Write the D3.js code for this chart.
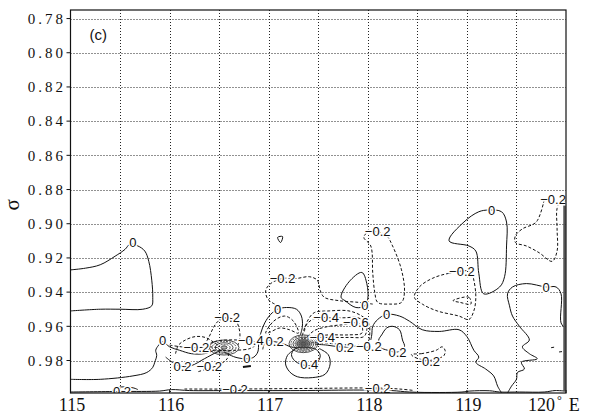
<!DOCTYPE html>
<html><head><meta charset="utf-8">
<script src="https://cdn.jsdelivr.net/npm/d3@7"></script>
<style>
body{margin:0;background:#fff;}
</style></head>
<body><svg id="chart" width="598" height="414"></svg>
<script>
// axis ticks and grid
const lonTicks = [115, 116, 117, 118, 119, 120];
const lonGrid = [115.5, 116, 116.5, 117, 117.5, 118, 118.5, 119, 119.5];
const sigmaTicks = [0.78, 0.80, 0.82, 0.84, 0.86, 0.88, 0.90, 0.92, 0.94, 0.96, 0.98];

// contour lines, [longitude, sigma] pairs
const zeroLines = [
  [[115.00,0.927],[115.15,0.926],[115.30,0.924],[115.45,0.919],[115.55,0.915],[115.60,0.912],[115.68,0.913],[115.75,0.916],[115.79,0.922],[115.82,0.933],[115.83,0.943],[115.82,0.948],[115.73,0.950],[115.50,0.950],[115.30,0.950],[115.00,0.951]],
  [[115.00,0.991],[115.30,0.991],[115.63,0.989],[115.77,0.987],[115.83,0.984],[115.85,0.981],[115.87,0.977],[115.86,0.974],[115.89,0.971],[115.93,0.969],[116.00,0.972],[116.10,0.974],[116.22,0.976],[116.35,0.976],[116.45,0.974]],
  [[116.55,0.975],[116.66,0.978],[116.78,0.979],[116.85,0.978],[116.89,0.975],[116.90,0.9695],[116.92,0.964],[116.96,0.958],[117.02,0.953],[117.09,0.950],[117.18,0.949],[117.28,0.950],[117.33,0.954],[117.34,0.960],[117.32,0.965]],
  [[117.73,0.943],[117.81,0.934],[117.94,0.9285],[117.99,0.935],[118.00,0.944],[117.97,0.948],[117.88,0.949],[117.77,0.945],[117.73,0.943]],
  [[118.03,0.968],[118.04,0.965],[118.05,0.960],[118.10,0.956],[118.19,0.953],[118.32,0.954],[118.42,0.957],[118.55,0.962],[118.72,0.963],[118.92,0.962],[119.00,0.966],[119.07,0.974],[119.12,0.978],[119.09,0.981],[119.19,0.985],[119.27,0.989],[119.31,0.995],[119.35,0.999]],
  [[119.99,0.961],[119.95,0.958],[119.95,0.941],[119.90,0.937],[119.80,0.937],[119.60,0.935],[119.46,0.937],[119.41,0.941],[119.43,0.948],[119.46,0.954],[119.53,0.960],[119.63,0.968],[119.56,0.972],[119.63,0.976],[119.71,0.979],[119.55,0.981],[119.58,0.985],[119.51,0.987],[119.50,0.991],[119.45,0.995],[119.41,0.999]],
  [[118.82,0.910],[118.97,0.899],[119.12,0.893],[119.22,0.892],[119.35,0.893],[119.40,0.899],[119.40,0.913],[119.38,0.931],[119.33,0.937],[119.17,0.941],[119.12,0.929],[119.09,0.916],[119.02,0.913],[118.82,0.910]]
];

const neg02Lines = [
  [[117.06,0.947],[116.99,0.944],[116.97,0.939],[117.02,0.935],[117.14,0.932],[117.28,0.932],[117.41,0.931],[117.49,0.933],[117.52,0.939],[117.56,0.943],[117.71,0.945],[117.91,0.946],[118.05,0.947]],
  [[118.00,0.905],[117.96,0.908],[118.03,0.913],[118.05,0.929],[118.07,0.940],[118.10,0.946],[118.22,0.947],[118.34,0.946],[118.37,0.940],[118.34,0.927],[118.25,0.913],[118.19,0.907],[118.11,0.905],[118.00,0.905]],
  [[119.04,0.928],[118.82,0.929],[118.65,0.932],[118.52,0.937],[118.47,0.943],[118.55,0.947],[118.70,0.951],[118.92,0.954],[119.02,0.956],[119.07,0.951],[119.09,0.943],[119.07,0.933],[119.04,0.928]],
  [[118.86,0.945],[119.02,0.943],[119.04,0.947],[118.93,0.946],[118.86,0.945]],
  [[119.78,0.886],[119.70,0.899],[119.56,0.903],[119.49,0.907],[119.49,0.911],[119.60,0.913],[119.73,0.917],[119.86,0.922],[119.91,0.916],[119.91,0.903],[119.91,0.891],[119.95,0.886]],
  [[118.44,0.9765],[118.54,0.976],[118.69,0.974],[118.75,0.972],[118.78,0.974],[118.77,0.977],[118.70,0.979],[118.60,0.980],[118.47,0.978],[118.44,0.9765]],
  [[116.35,0.971],[116.40,0.966],[116.44,0.961],[116.49,0.957],[116.58,0.955],[116.67,0.957],[116.70,0.961],[116.71,0.966],[116.69,0.971]],
  [[116.06,0.976],[116.09,0.971],[116.16,0.968],[116.26,0.966],[116.36,0.9665],[116.45,0.9695],[116.51,0.972]],
  [[116.00,0.971],[116.12,0.972],[116.27,0.9725],[116.40,0.972],[116.49,0.9725]],
  [[116.29,0.9865],[116.40,0.9845],[116.50,0.9825],[116.58,0.979],[116.60,0.975]],
  [[117.36,0.963],[117.39,0.957],[117.46,0.952],[117.61,0.951],[117.81,0.951],[117.94,0.954],[118.01,0.958],[118.02,0.964],[118.01,0.969],[118.00,0.972],[117.81,0.971],[117.61,0.970],[117.43,0.9695]],
  [[116.97,0.964],[117.05,0.957],[117.16,0.954],[117.25,0.957],[117.30,0.964],[117.21,0.962],[117.11,0.961],[117.01,0.9635],[116.97,0.964]],
  [[116.15,0.99667],[116.68,0.99667],[117.31,0.99638],[118.10,0.9961],[118.32,0.99667],[118.47,0.99755]]
];

const neg04Lines = [
  [[117.34,0.9654],[117.37,0.960],[117.44,0.956],[117.53,0.955],[117.64,0.955],[117.76,0.955],[117.90,0.955],[117.98,0.958],[117.99,0.962],[117.96,0.966],[117.81,0.9665],[117.66,0.9665],[117.46,0.9665]],
  [[116.35,0.9725],[116.45,0.969],[116.58,0.968],[116.70,0.968],[116.82,0.968],[116.87,0.9705],[116.81,0.973],[116.66,0.974],[116.49,0.974],[116.38,0.9735],[116.35,0.9725]]
];

const neg06Lines = [
  [[117.39,0.966],[117.46,0.9625],[117.61,0.960],[117.76,0.959],[117.88,0.958],[117.94,0.960],[117.94,0.964],[117.81,0.965],[117.61,0.965],[117.43,0.966]]
];

const pos02Lines = [
  [[118.14,0.965],[118.19,0.961],[118.25,0.960],[118.32,0.962],[118.35,0.968],[118.37,0.972],[118.30,0.975],[118.20,0.974],[118.12,0.972],[118.11,0.968],[118.14,0.965]],
  [[116.94,0.9735],[116.96,0.9695],[116.99,0.968],[117.06,0.969],[117.14,0.970],[117.22,0.972],[117.29,0.9725]],
  [[117.26,0.9735],[117.19,0.977],[117.17,0.982],[117.21,0.9865],[117.29,0.9895],[117.44,0.990],[117.57,0.988],[117.62,0.982],[117.60,0.9765],[117.51,0.973]],
  [[117.47,0.9705],[117.59,0.971],[117.71,0.972],[117.83,0.972],[117.91,0.971]],
  [[115.96,0.978],[116.04,0.9815],[116.13,0.9835],[116.22,0.983],[116.35,0.979],[116.48,0.975],[116.54,0.9735]],
  [[115.00,0.99843],[115.50,0.9981],[115.90,0.99786],[116.02,0.9970],[116.20,0.99757],[116.61,0.99757],[117.31,0.99757],[117.92,0.99727],[118.24,0.99757],[118.42,0.99843],[118.72,0.9987],[118.95,0.99843],[119.03,0.99786],[119.23,0.9977],[119.33,0.99843],[119.53,0.99843],[119.78,0.99843],[119.89,0.99757],[119.99,0.99786]],
  [[115.42,0.9976],[115.47,0.9958],[115.57,0.9955],[115.64,0.9961],[115.68,0.997]]
];

const pos04Lines = [
  [[117.27,0.973],[117.23,0.9765],[117.26,0.980],[117.33,0.9823],[117.41,0.983],[117.49,0.981],[117.52,0.977],[117.48,0.9736],[117.39,0.9724],[117.27,0.973]]
];

// small isolated contour fragments
const smallBits = [
  [[117.09,0.908],[117.14,0.9075],[117.12,0.911],[117.09,0.908]],
  [[119.85,0.9725],[119.88,0.9722]],
  [[119.93,0.975],[119.96,0.9748]]
];
const thickBits = [
  [[116.74,0.9838],[116.82,0.9832]]
];
// contours piling up along the eastern boundary
const edgeBand = [[119.985,0.884],[119.985,0.998]];

// tightly packed rings around the two cores: [half-width lon, half-height sigma, level]
const coreCenters = [[116.55,0.9724],[117.35,0.9702]];
const core1Rings = [[0.03,0.0010,-1],[0.06,0.0019,-0.8],[0.09,0.0028,-0.6],[0.12,0.0036,-0.4],[0.15,0.0044,-0.2]];
const core2Rings = [[0.025,0.0009,-1.6],[0.045,0.0016,-1.4],[0.065,0.0024,-1.2],[0.085,0.0031,-1],[0.105,0.0038,-0.8],[0.125,0.0045,-0.6],[0.145,0.0052,-0.4]];

// contour labels: [lon, sigma, text]
const contourLabels = [
  [115.63,0.911,"0"],[115.93,0.968,"0"],[116.58,0.955,"\u22120.2"],[116.27,0.9725,"\u22120.2"],
  [116.13,0.9835,"0.2"],[116.40,0.9835,"\u22120.2"],[116.82,0.968,"\u22120.4"],[116.78,0.979,"0"],
  [117.09,0.950,"0"],[117.14,0.932,"\u22120.2"],[117.06,0.969,"0.2"],[117.58,0.955,"\u22120.4"],
  [117.88,0.9575,"\u22120.6"],[117.54,0.9662,"\u22120.4"],[117.77,0.9722,"0.2"],[118.01,0.9715,"\u22120.2"],
  [117.41,0.9823,"0.4"],[117.97,0.948,"0"],[118.19,0.953,"0"],[118.30,0.975,"0.2"],
  [118.60,0.9805,"\u22120.2"],[118.10,0.9045,"\u22120.2"],[119.25,0.892,"0"],[118.95,0.928,"\u22120.2"],
  [119.87,0.886,"\u22120.2"],[119.80,0.937,"0"],[115.52,0.9978,"0.2"],[116.66,0.9968,"\u22120.2"],
  [118.10,0.9962,"\u22120.2"]
];

const svg = d3.select("#chart");
const x = d3.scaleLinear().domain([115, 120]).range([70.5, 566]);
const y = d3.scaleLinear().domain([0.775, 0.999]).range([10, 393]);
const serif = "'Liberation Serif','Times New Roman',Times,serif";
const sans = "'Liberation Sans',Arial,Helvetica,sans-serif";

svg.append("defs").append("clipPath").attr("id", "plot")
  .append("rect").attr("x", x(115)).attr("y", y(0.775))
  .attr("width", x(120) - x(115)).attr("height", y(0.999) - y(0.775));

// dotted grid
const grid = svg.append("g").attr("stroke", "#222").attr("stroke-width", 1).attr("stroke-dasharray", "1,2");
grid.selectAll("line.v").data(lonGrid).join("line")
  .attr("x1", d => Math.round(x(d)) + 0.5).attr("x2", d => Math.round(x(d)) + 0.5)
  .attr("y1", y(0.775)).attr("y2", y(0.999));
grid.selectAll("line.h").data(sigmaTicks).join("line")
  .attr("y1", d => Math.round(y(d)) + 0.5).attr("y2", d => Math.round(y(d)) + 0.5)
  .attr("x1", x(115)).attr("x2", x(120));

const plot = svg.append("g").attr("clip-path", "url(#plot)");
const lineGen = d3.line().x(d => x(d[0])).y(d => y(d[1])).curve(d3.curveCatmullRom.alpha(0.5));
const closedGen = d3.line().x(d => x(d[0])).y(d => y(d[1])).curve(d3.curveCatmullRomClosed.alpha(0.5));

function isClosed(p) {
  const a = p[0], b = p[p.length - 1];
  return p.length > 3 && a[0] === b[0] && a[1] === b[1];
}
function drawSet(lines, dashed, width) {
  plot.append("g").selectAll("path").data(lines).join("path")
    .attr("d", p => isClosed(p) ? closedGen(p.slice(0, -1)) : lineGen(p))
    .attr("fill", "none").attr("stroke", "#111")
    .attr("stroke-width", width || 1)
    .attr("stroke-dasharray", dashed ? "3,2" : null);
}
drawSet(zeroLines, false);
drawSet(pos02Lines, false);
drawSet(pos04Lines, false);
drawSet(neg02Lines, true);
drawSet(neg04Lines, true);
drawSet(neg06Lines, true);
drawSet(smallBits, false);
drawSet(thickBits, false, 2.2);

plot.append("path").attr("d", d3.line().x(d => x(d[0])).y(d => y(d[1]))(edgeBand))
  .attr("stroke", "#555").attr("stroke-width", 2.5).attr("fill", "none");

// core rings; the innermost ones are packed so tightly that they read as grey
[core1Rings, core2Rings].forEach((rings, i) => {
  const c = coreCenters[i];
  plot.append("g").selectAll("ellipse").data(rings).join("ellipse")
    .attr("cx", x(c[0])).attr("cy", y(c[1]))
    .attr("rx", d => x(c[0] + d[0]) - x(c[0]))
    .attr("ry", d => y(c[1] + d[1]) - y(c[1]))
    .attr("fill", d => d[2] <= -1 ? "rgba(80,80,80,0.45)" : "none")
    .attr("stroke", "#222").attr("stroke-width", 0.8)
    .attr("stroke-dasharray", (d, j) => j % 2 ? "2,1" : null);
});

// contour labels
plot.append("g").selectAll("text").data(contourLabels).join("text")
  .style("font-family", sans)
  .attr("x", d => x(d[0])).attr("y", d => y(d[1]))
  .attr("dy", "0.36em").attr("text-anchor", "middle")
  .attr("font-size", 13)
  .attr("fill", "#111").attr("stroke", "#fff").attr("stroke-width", 3)
  .attr("paint-order", "stroke").text(d => d[2]);

// frame
svg.append("rect").attr("x", x(115)).attr("y", y(0.775))
  .attr("width", x(120) - x(115)).attr("height", y(0.999) - y(0.775))
  .attr("fill", "none").attr("stroke", "#111").attr("stroke-width", 1.2);

// sigma axis
const yAxis = svg.append("g");
yAxis.selectAll("line").data(sigmaTicks).join("line")
  .attr("x1", x(115) - 4).attr("x2", x(115))
  .attr("y1", d => y(d)).attr("y2", d => y(d)).attr("stroke", "#111");
yAxis.selectAll("text").data(sigmaTicks).join("text")
  .style("font-family", serif)
  .attr("x", x(115) - 4.5).attr("y", d => y(d)).attr("dy", "0.35em")
  .attr("text-anchor", "end")
  .attr("font-size", 15).attr("letter-spacing", "3px").attr("fill", "#111")
  .text(d => d3.format(".2f")(d));

// longitude axis
const xAxis = svg.append("g");
xAxis.selectAll("line").data(lonTicks).join("line")
  .attr("x1", d => x(d)).attr("x2", d => x(d))
  .attr("y1", y(0.999)).attr("y2", y(0.999) - 3).attr("stroke", "#111");
xAxis.selectAll("text").data(lonTicks.slice(0, -1)).join("text")
  .style("font-family", serif)
  .attr("x", d => x(d) + 1.5).attr("y", 411)
  .attr("text-anchor", "middle")
  .attr("font-size", 18).attr("fill", "#111").text(d => d);
const last = xAxis.append("text").style("font-family", serif)
  .attr("x", x(120) - 38).attr("y", 411)
  .attr("font-size", 18).attr("fill", "#111");
last.append("tspan").text("120");
last.append("tspan").attr("font-size", 12).attr("dy", -7).attr("dx", 2).text("\u00B0");
last.append("tspan").attr("dy", 7).attr("dx", 7).text("E");

// axis title and panel tag
svg.append("text").style("font-family", serif)
  .attr("transform", `translate(19,${y(0.889)}) rotate(-90)`)
  .attr("text-anchor", "middle")
  .attr("font-size", 21).attr("fill", "#111").text("\u03C3");
svg.append("text").style("font-family", sans).attr("x", x(115) + 19).attr("y", 40)
  .attr("font-size", 15)
  .attr("fill", "#111").text("(c)");
</script>
</body></html>
